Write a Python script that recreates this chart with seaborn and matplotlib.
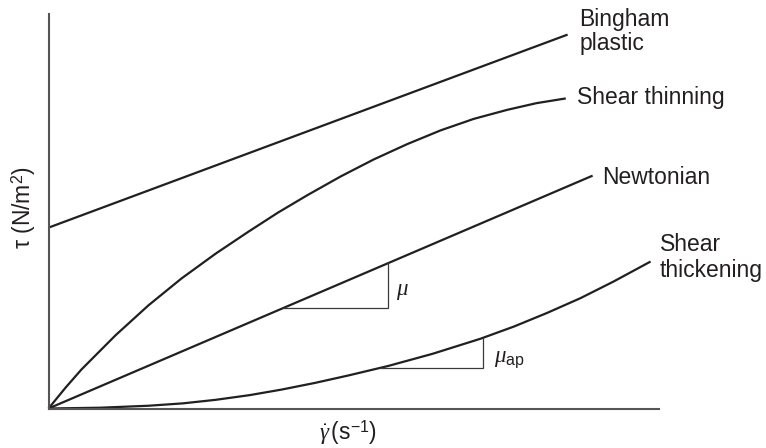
import numpy as np
import pandas as pd
import matplotlib
matplotlib.use("Agg")
import matplotlib.pyplot as plt
import seaborn as sns

# Flow curves: shear stress vs shear rate (arbitrary units, 0-100)
bingham_x = [0.0, 85.1]
bingham_y = [45.9, 94.9]

newtonian_x = [0.0, 89.2]
newtonian_y = [0.0, 59.1]

thinning_x = [0.0, 2.8, 5.4, 11.0, 16.4, 21.8, 27.4, 32.8, 37.6, 42.5, 47.9,
              53.3, 58.8, 64.3, 69.7, 75.2, 80.0, 84.8]
thinning_y = [0.0, 5.3, 9.9, 18.6, 26.2, 33.0, 39.3, 44.9, 49.7, 54.2, 58.9,
              63.2, 67.1, 70.6, 73.5, 75.8, 77.5, 78.7]

thickening_x = [0.0, 8.5, 16.4, 22.0, 27.4, 33.0, 38.2, 43.7, 49.2, 55.7, 63.0,
                70.8, 76.3, 81.8, 87.2, 92.6, 98.7]
thickening_y = [0.0, 0.2, 0.7, 1.3, 2.2, 3.4, 4.8, 6.5, 8.4, 10.8, 13.9,
                17.7, 20.8, 24.3, 28.0, 32.2, 37.3]

# Slope triangles (x extent along each curve)
mu_tri_x = [38.5, 55.7]
mu_ap_tri_x = [54.4, 71.3]

sns.set_theme(style="white")
plt.rcParams["font.family"] = ["Liberation Sans", "DejaVu Sans"]
plt.rcParams["mathtext.fontset"] = "custom"
plt.rcParams["mathtext.rm"] = "Liberation Sans"
plt.rcParams["mathtext.sf"] = "Liberation Sans"
plt.rcParams["mathtext.it"] = "Liberation Serif:italic"

ink = "#231f20"
fs = 16.5

fig = plt.figure(figsize=(7.66, 4.48), dpi=100)
ax = fig.add_axes([48.5 / 766, (448 - 408.5) / 448, 610 / 766, 394 / 448])

curves = [
    (bingham_x, bingham_y),
    (thinning_x, thinning_y),
    (newtonian_x, newtonian_y),
    (thickening_x, thickening_y),
]
for cx, cy in curves:
    df = pd.DataFrame({"rate": cx, "stress": cy})
    sns.lineplot(data=df, x="rate", y="stress", ax=ax, color=ink,
                 linewidth=1.6, sort=False, estimator=None,
                 solid_capstyle="butt", solid_joinstyle="round",
                 clip_on=False)

# slope triangles
def triangle(xs, cx, cy):
    x0, x1 = xs
    y0 = np.interp(x0, cx, cy)
    y1 = np.interp(x1, cx, cy)
    ax.plot([x0, x1, x1], [y0, y0, y1], color="#3a3a3a", linewidth=0.9,
            solid_joinstyle="miter")

triangle(mu_tri_x, newtonian_x, newtonian_y)
triangle(mu_ap_tri_x, thickening_x, thickening_y)

ax.text(56.9, 28.7, r"$\mu$", fontsize=fs, color=ink, va="baseline", ha="left")
ax.text(73.0, 12.0, r"$\mu_{\mathrm{ap}}$", fontsize=fs, color=ink,
        va="baseline", ha="left")

labels = [
    (87.0, 97.2, "Bingham"),
    (87.0, 90.9, "plastic"),
    (86.6, 77.4, "Shear thinning"),
    (90.7, 57.1, "Newtonian"),
    (100.3, 40.1, "Shear"),
    (100.2, 33.5, "thickening"),
]
for lx, ly, s in labels:
    ax.text(lx, ly, s, fontsize=fs, color=ink, ha="left", va="baseline",
            clip_on=False)

ax.set_xlim(0, 100)
ax.set_ylim(0, 100)
ax.set_xticks([])
ax.set_yticks([])
for side in ("top", "right"):
    ax.spines[side].set_visible(False)
for side in ("left", "bottom"):
    ax.spines[side].set_color("#555555")
    ax.spines[side].set_linewidth(1.5)

ax.set_xlabel(r"$\dot{\gamma}\,$(s$^{-1}$)", fontsize=fs, color=ink)
ax.set_ylabel(r"τ (N/m$^{2}$)", fontsize=fs, color=ink)
ax.xaxis.set_label_coords(0.491, -0.025)
ax.yaxis.set_label_coords(-0.017, 0.511)

fig.savefig("out.png", dpi=100)
